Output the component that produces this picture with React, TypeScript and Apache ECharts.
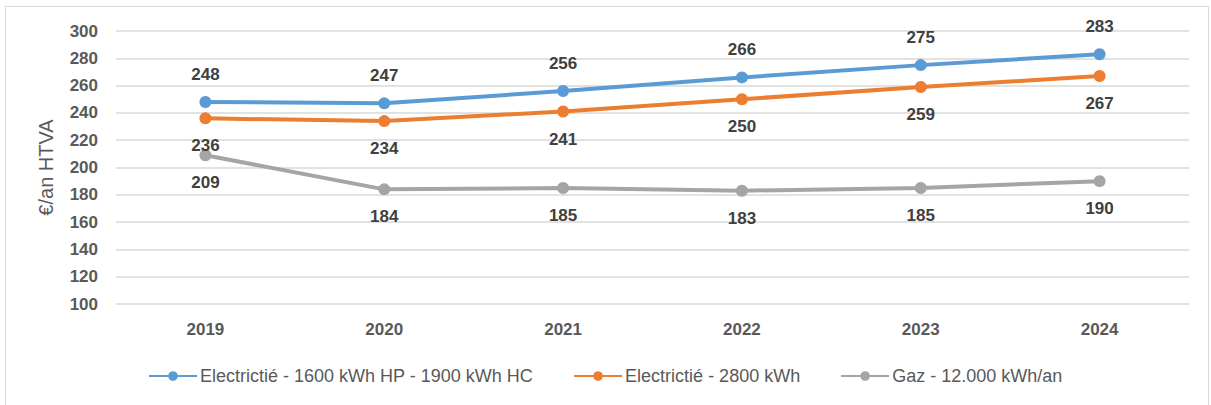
import React, { useEffect, useRef } from "react";
import * as echarts from "echarts";

const years = ["2019", "2020", "2021", "2022", "2023", "2024"];
const elecHpHc = [248, 247, 256, 266, 275, 283];
const elec2800 = [236, 234, 241, 250, 259, 267];
const gaz = [209, 184, 185, 183, 185, 190];
const seriesNames = [
  "Electrictié - 1600 kWh HP - 1900 kWh HC",
  "Electrictié - 2800 kWh",
  "Gaz - 12.000 kWh/an",
];

const FONT = "'Liberation Sans', Arial, sans-serif";

export default function App() {
  const ref = useRef<HTMLDivElement>(null);
  useEffect(() => {
    document.body.style.margin = "0";
    const chart = echarts.init(ref.current!, null, { renderer: "svg" });
    const mk = (name: string, data: number[], color: string, pos: string) => ({
      name,
      type: "line",
      data,
      symbol: "circle",
      symbolSize: 12,
      itemStyle: { color },
      lineStyle: { color, width: 4 },
      label: {
        show: true,
        position: pos,
        distance: 13,
        fontFamily: FONT,
        fontSize: 17,
        fontWeight: "bold",
        color: "#404040",
      },
    });
    chart.setOption({
      animation: false,
      textStyle: { fontFamily: FONT },
      graphic: [
        {
          type: "rect",
          shape: { x: 5.5, y: 6.5, width: 1203, height: 400 },
          style: { fill: "none", stroke: "#d9d9d9", lineWidth: 1 },
          silent: true,
        },
      ],
      grid: { left: 116, right: 22, top: 31, bottom: 101 },
      legend: {
        top: 362,
        left: 143,
        itemWidth: 48,
        itemHeight: 12,
        itemGap: 40,
        textStyle: { fontFamily: FONT, fontSize: 18, color: "#595959", padding: [0, 0, 0, -2] },
        data: seriesNames,
      },
      xAxis: {
        type: "category",
        data: years,
        boundaryGap: true,
        axisLine: { show: false },
        axisTick: { show: false },
        axisLabel: {
          margin: 17,
          fontFamily: FONT,
          fontSize: 17,
          fontWeight: "bold",
          color: "#595959",
        },
      },
      yAxis: {
        type: "value",
        min: 100,
        max: 300,
        interval: 20,
        name: "€/an HTVA",
        nameLocation: "middle",
        nameGap: 60,
        nameRotate: 90,
        nameTextStyle: { fontFamily: FONT, fontSize: 20, color: "#595959" },
        axisLine: { show: false },
        axisTick: { show: false },
        axisLabel: {
          margin: 18,
          fontFamily: FONT,
          fontSize: 17,
          fontWeight: "bold",
          color: "#595959",
        },
        splitLine: { lineStyle: { color: "#d9d9d9", width: 1.5 } },
      },
      series: [
        mk(seriesNames[0], elecHpHc, "#5B9BD5", "top"),
        mk(seriesNames[1], elec2800, "#ED7D31", "bottom"),
        mk(seriesNames[2], gaz, "#A5A5A5", "bottom"),
      ],
    });
    return () => chart.dispose();
  }, []);
  return (
    <div
      ref={ref}
      style={{ position: "absolute", left: 0, top: 0, width: 1211, height: 405 }}
    />
  );
}
